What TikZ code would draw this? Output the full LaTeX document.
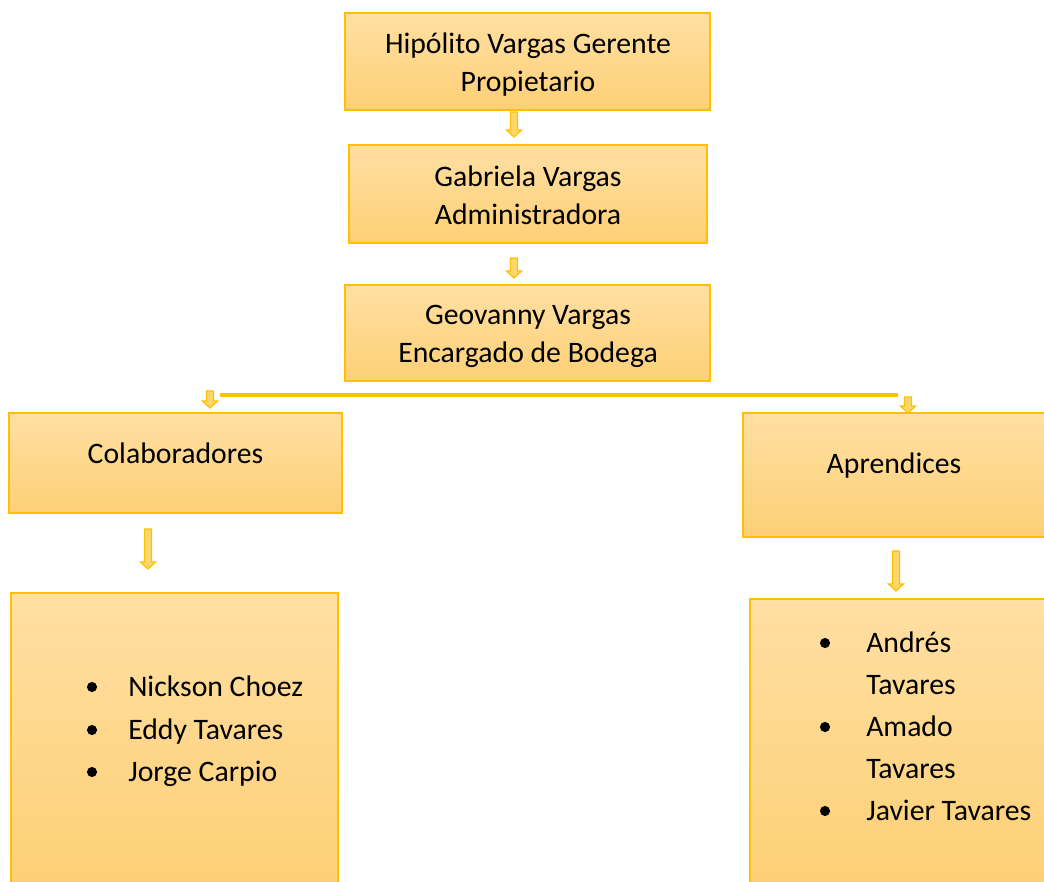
\documentclass[tikz,border=0pt]{standalone}
\usepackage{fontspec}
\setmainfont{Carlito}
\definecolor{bordc}{RGB}{255,192,0}
\definecolor{topc}{RGB}{255,223,163}
\definecolor{botc}{RGB}{253,208,118}
\definecolor{arrf}{RGB}{255,214,110}
\tikzset{
  box/.style={draw=bordc, line width=1pt, top color=topc, bottom color=botc, inner sep=0pt},
  lbl/.style={font=\fontsize{22.3}{28.5}\selectfont, align=center, inner sep=0pt},
  itm/.style={font=\fontsize{22.3}{28.5}\selectfont, anchor=base west, inner sep=0pt},
  blk/.style={draw=bordc, line width=0.9pt, fill=arrf, line join=miter},
  hline/.style={draw=bordc, line width=2.4pt},
  bul/.style={fill=black, draw=none}
}
\newcommand\myarrow[3]{%
  \coordinate (a-#1-#2) at (#1,#2);
  \coordinate (b-#1-#2) at (#1,#3);
  \path[blk] ([xshift=-2.6pt]a-#1-#2) -- ([xshift=2.6pt]a-#1-#2) -- ([xshift=2.6pt,yshift=5.2pt]b-#1-#2) -- ([xshift=5.6pt,yshift=5.2pt]b-#1-#2) -- (b-#1-#2) -- ([xshift=-5.6pt,yshift=5.2pt]b-#1-#2) -- ([xshift=-2.6pt,yshift=5.2pt]b-#1-#2) -- cycle;}
\begin{document}
\begin{tikzpicture}[x=0.75pt,y=-0.75pt]
\useasboundingbox (0,0) rectangle (1044,881);
\begin{scope}
\clip (0,0) rectangle (1044,881);
% boxes
\node[box, minimum width=365*0.75pt, minimum height=97*0.75pt] (b1) at (527.5,61.5) {};
\node[box, minimum width=358*0.75pt, minimum height=98*0.75pt] (b2) at (528,194) {};
\node[box, minimum width=365*0.75pt, minimum height=96*0.75pt] (b3) at (527.5,333) {};
\node[box, minimum width=333*0.75pt, minimum height=100*0.75pt] (b4) at (175.5,463) {};
\node[box, minimum width=304*0.75pt, minimum height=124*0.75pt] (b5) at (895,475) {};
\node[box, minimum width=327*0.75pt, minimum height=292*0.75pt] (b6) at (174.5,739) {};
\node[box, minimum width=300*0.75pt, minimum height=286*0.75pt] (b7) at (900,742) {};
% labels
\node[lbl] (t1) at (528,64.5) {Hipólito Vargas Gerente\\Propietario};
\node[lbl] (t2) at (528,195.5) {Gabriela Vargas\\Administradora};
\node[lbl] (t3) at (528,336.5) {Geovanny Vargas\\Encargado de Bodega};
\node[lbl] (t4) at (175.5,453) {Colaboradores};
\node[lbl] (t5) at (894,466) {Aprendices};
% left list
\foreach \yy/\tx [count=\i] in {687/Nickson Choez,730/Eddy Tavares,772/Jorge Carpio}{
  \fill[bul] (92,\yy) circle (3.8pt);
  \node[itm] (l\i) at (128,\yy+9.5) {\tx};
}
% right list
\foreach \yy in {643,727,811}{\fill[bul] (825,\yy) circle (3.8pt);}
\foreach \yy/\tx [count=\i] in {643/Andrés,685/Tavares,727/Amado,769/Tavares,811/Javier Tavares}{
  \node[itm] (r\i) at (866,\yy+9.5) {\tx};
}
% connectors
\coordinate (hl) at (220,395);
\coordinate (hr) at (898,395);
\draw[hline] (hl) -- (hr);
\myarrow{514}{112}{137}
\myarrow{514}{258}{278}
\myarrow{210}{391}{408}
\myarrow{908}{397}{413}
\myarrow{148}{529}{569}
\myarrow{896}{551}{591}
\end{scope}
\end{tikzpicture}
\end{document}
